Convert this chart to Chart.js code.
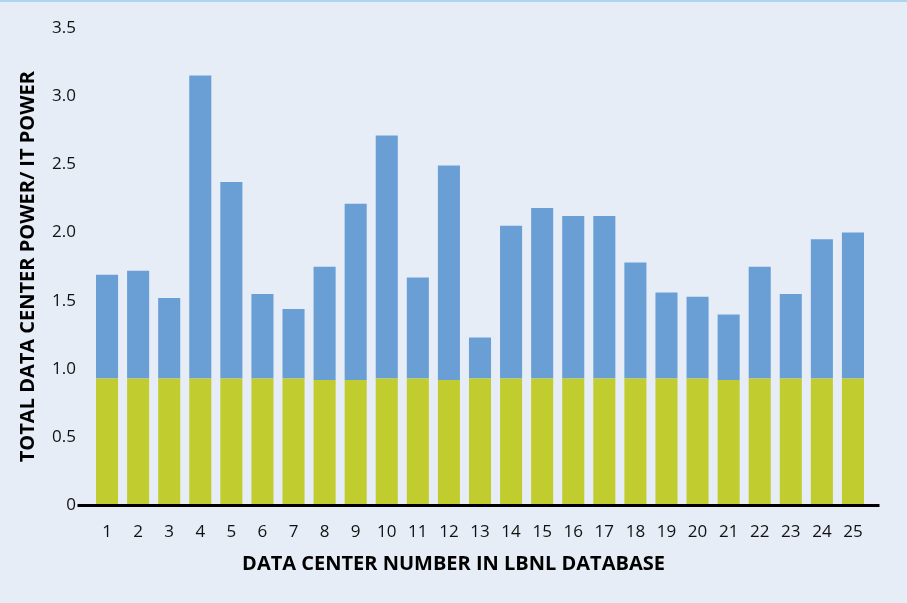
<!DOCTYPE html>
<html>
<head>
<meta charset="utf-8">
<script src="https://cdn.jsdelivr.net/npm/chart.js@4"></script>
<style>
  html, body { margin: 0; padding: 0; background: #e7edf7; }
  canvas { display: block; }
</style>
</head>
<body>
<canvas id="pueChart" width="907" height="603"></canvas>
<script>
// data center numbers 1..25
var centers = ['1','2','3','4','5','6','7','8','9','10','11','12','13','14','15','16','17','18','19','20','21','22','23','24','25'];
// IT power share (green, bottom)
var itPower = [0.93, 0.93, 0.93, 0.93, 0.93, 0.93, 0.93, 0.92, 0.92, 0.93, 0.93, 0.92, 0.93, 0.93, 0.93, 0.93, 0.93, 0.93, 0.93, 0.93, 0.92, 0.93, 0.93, 0.93, 0.93];
var totalRatio = [1.69, 1.72, 1.52, 3.15, 2.37, 1.55, 1.44, 1.75, 2.21, 2.71, 1.67, 2.49, 1.23, 2.05, 2.18, 2.12, 2.12, 1.78, 1.56, 1.53, 1.40, 1.75, 1.55, 1.95, 2.00];
var yTicks = [0, 0.5, 1.0, 1.5, 2.0, 2.5, 3.0, 3.5];

var overhead = totalRatio.map(function (t, i) { return +(t - itPower[i]).toFixed(2); });

// background, top rule and the long baseline
var decor = {
  id: 'decor',
  beforeDraw: function (chart) {
    var c = chart.ctx;
    c.save();
    c.fillStyle = '#e7edf7';
    c.fillRect(0, 0, chart.width, chart.height);
    c.fillStyle = '#aed5f0';
    c.fillRect(0, 0, chart.width, 2);
    c.restore();
  },
  afterDatasetsDraw: function (chart) {
    var c = chart.ctx, a = chart.chartArea;
    var y0 = chart.scales.y.getPixelForValue(0);
    c.save();
    c.strokeStyle = '#000';
    c.lineWidth = 3;
    c.beginPath();
    c.moveTo(a.left - 14, y0);
    c.lineTo(a.right + 11, y0);
    c.stroke();
    c.restore();
  }
};

var ctx = document.getElementById('pueChart').getContext('2d');
var pueChart = new Chart(ctx, {
  type: 'bar',
  data: {
    labels: centers,
    datasets: [{
      data: itPower,
      backgroundColor: '#c1cd2e',
      borderWidth: 0
    }, {
      data: overhead,
      backgroundColor: '#6a9fd5',
      borderWidth: 0
    }]
  },
  options: {
    responsive: false,
    animation: false,
    datasets: {
      bar: { barPercentage: 0.71, categoryPercentage: 1.0 }
    },
    layout: {
      padding: { left: 0, right: 0, top: 27.75, bottom: 16.5 }
    },
    plugins: {
      legend: { display: false },
      tooltip: { enabled: false },
      title: {
        display: true,
        position: 'bottom',
        text: 'DATA CENTER NUMBER IN LBNL DATABASE',
        color: '#000',
        font: { family: 'Open Sans', size: 20, weight: '700', lineHeight: 1.2 },
        padding: { top: 2, bottom: 10 }
      }
    },
    scales: {
      x: {
        stacked: true,
        grid: { display: false, drawTicks: false },
        border: { display: false },
        ticks: {
          color: '#111',
          padding: 16,
          maxRotation: 0,
          autoSkip: false,
          font: { family: 'Open Sans', size: 17 }
        },
        afterFit: function (s) { s.height = 45; }
      },
      y: {
        stacked: true,
        min: 0,
        max: 3.5,
        afterBuildTicks: function (s) {
          s.ticks = yTicks.map(function (v) { return { value: v }; });
        },
        grid: { display: false, drawTicks: false },
        border: { display: false },
        ticks: {
          color: '#111',
          padding: 15.5,
          font: { family: 'Open Sans', size: 17 },
          callback: function (v) { return v === 0 ? '0' : Number(v).toFixed(1); }
        },
        title: {
          display: true,
          text: 'TOTAL DATA CENTER POWER/ IT POWER',
          color: '#000',
          font: { family: 'Open Sans', size: 20, weight: '700', lineHeight: 1.2 },
          padding: { top: 16, bottom: 0 }
        },
        afterFit: function (s) { s.width = 91.5; }
      },
      // empty right-hand spacer so the bottom title centres on the whole canvas
      spacer: {
        type: 'linear',
        position: 'right',
        display: true,
        grid: { display: false, drawTicks: false },
        border: { display: false },
        ticks: { display: false },
        afterFit: function (s) { s.width = 38.5; }
      }
    }
  },
  plugins: [decor]
});
</script>
</body>
</html>
